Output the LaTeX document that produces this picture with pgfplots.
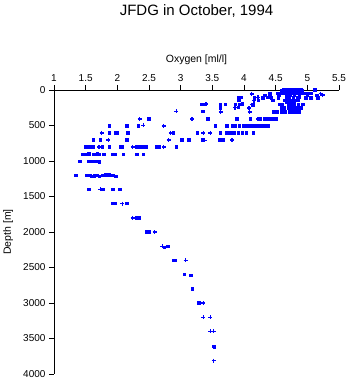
\documentclass[border=0pt]{standalone}
\usepackage{fontspec}
\setmainfont{Liberation Sans}
\usepackage{pgfplots}
\pgfplotsset{compat=1.18}
\definecolor{dotblue}{RGB}{0,0,255}
\begin{document}
\begin{tikzpicture}
\begin{axis}[
  name=ax,
  scale only axis,
  width=285pt, height=284pt,
  xmin=1, xmax=5.5, ymin=0, ymax=4000,
  y dir=reverse,
  axis x line*=top,
  axis y line*=left,
  axis line style={line width=0.8pt,-},
  every tick/.style={line width=0.8pt,black},
  tick align=outside,
  major tick length=5pt,
  xtick={1,1.5,...,5.5},
  xticklabels={1,1.5,2,2.5,3,3.5,4,4.5,5,5.5},
  ytick={0,500,...,4000},
  scaled ticks=false,
  /pgf/number format/assume math mode=true,
  /pgf/number format/1000 sep={},
  tick label style={font=\fontsize{10}{12}\selectfont},
  xlabel={Oxygen [ml/l]},
  ylabel={Depth [m]},
  label style={font=\fontsize{10.5}{12}\selectfont},
  xlabel style={at={(axis description cs:0.5,1)}, anchor=center, yshift=30pt},
  ylabel style={at={(axis description cs:-0.161,0.5)}, anchor=center},
  title={JFDG in October, 1994},
  title style={font=\fontsize{15}{17}\selectfont, at={(axis description cs:0.5,1)}, anchor=center, yshift=73pt},
  clip=false,
]
\addplot[only marks, mark=square*, mark size=1.2pt, color=dotblue, mark options={draw=dotblue,fill=dotblue,line width=0pt}] table {
x y
4.62 0
4.66 0
4.70 0
4.74 0
4.78 0
4.82 0
4.86 0
4.90 0
5.12 0
4.60 10
4.64 10
4.68 10
4.72 10
4.76 10
4.80 10
4.84 10
4.88 10
4.92 10
4.62 20
4.66 20
4.70 20
4.75 20
4.79 20
4.83 20
4.87 20
4.60 30
4.64 30
4.68 30
4.73 30
4.78 30
4.85 30
4.90 30
4.41 55
4.53 50
4.58 50
4.63 50
4.67 50
4.70 50
4.74 50
4.78 50
4.82 50
4.86 50
4.90 50
4.95 50
5.00 50
5.06 50
4.33 75
4.55 75
4.68 75
4.73 75
4.80 75
4.88 75
5.00 75
5.15 75
3.92 110
3.96 105
4.17 110
4.30 110
4.38 105
4.43 110
4.54 110
4.67 110
4.72 105
4.78 110
4.84 110
4.88 105
4.98 110
5.06 110
5.17 110
3.92 150
4.23 150
4.46 150
4.64 150
4.70 150
4.75 150
4.80 150
4.85 150
4.68 170
4.74 170
4.80 170
3.33 205
3.38 205
3.63 205
3.71 205
3.87 205
3.93 205
3.98 200
4.14 210
4.56 205
4.60 205
4.70 205
4.75 205
4.80 205
4.86 205
4.93 205
3.63 255
3.91 245
4.59 255
4.64 255
4.70 255
4.76 255
4.82 255
4.88 255
4.91 255
3.36 300
3.35 300
4.47 310
4.52 310
4.59 310
4.65 310
4.72 310
4.77 310
4.82 310
4.88 310
2.50 410
3.43 410
3.89 410
4.10 410
4.25 410
4.33 410
4.38 410
4.43 410
4.47 410
4.51 410
1.88 505
2.15 505
2.33 505
3.55 505
3.73 505
3.82 505
3.87 505
3.93 505
4.00 505
4.05 505
4.10 505
4.15 505
4.20 505
4.25 505
4.30 505
4.34 505
4.38 505
1.88 605
1.97 605
2.00 605
2.17 605
2.89 605
3.27 605
3.63 605
3.72 605
3.76 605
3.80 605
3.85 605
3.91 605
3.98 605
4.04 605
4.15 605
1.62 705
1.73 705
2.15 705
3.02 705
3.13 705
3.34 705
3.61 705
3.67 705
1.50 805
1.54 805
1.58 805
1.62 805
1.77 805
1.88 805
2.06 805
2.08 805
2.31 805
2.36 805
2.41 805
2.45 805
2.62 805
2.67 805
2.93 805
1.46 905
1.50 905
1.55 900
1.62 905
1.66 910
1.69 900
1.72 905
1.79 905
1.93 905
1.97 905
2.10 905
2.31 910
2.41 910
1.41 1005
1.55 1005
1.59 1005
1.63 1010
1.67 1010
1.70 1010
1.72 1015
1.35 1205
1.51 1205
1.57 1205
1.60 1215
1.64 1210
1.69 1205
1.72 1215
1.77 1205
1.81 1195
1.87 1200
1.93 1205
1.98 1220
1.55 1400
1.76 1400
1.78 1400
1.93 1400
2.04 1400
1.93 1600
1.96 1600
2.15 1600
2.31 1800
2.35 1800
2.46 2000
2.51 2000
2.74 2220
2.80 2200
2.89 2400
2.92 2400
3.06 2600
3.16 2610
3.19 2800
3.29 3000
3.52 3610
3.53 3620
};
\addplot[only marks, mark=+, mark size=2pt, color=dotblue, mark options={line width=1.4pt}] table {
x y
4.12 55
5.21 50
5.24 70
4.22 105
4.16 150
3.40 200
4.12 205
3.86 250
4.08 255
2.93 300
3.63 310
4.09 310
2.35 410
3.18 410
4.22 410
2.41 500
2.73 505
1.75 605
2.84 605
3.36 605
3.47 605
1.86 705
2.81 705
3.38 710
3.81 705
1.71 805
2.24 805
2.73 805
1.73 1400
2.08 1600
2.24 1800
2.59 2000
2.71 2200
3.08 2400
3.36 3000
3.36 3200
3.47 3200
3.47 3400
3.52 3400
3.52 3810
};
\end{axis}
\pgfresetboundingbox
\path (ax.south west) ++(-54pt,-10pt) rectangle ([xshift=11pt,yshift=90pt]ax.north east);
\end{tikzpicture}
\end{document}
